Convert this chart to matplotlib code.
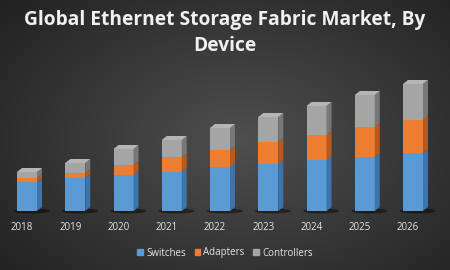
import matplotlib
matplotlib.use("Agg")
import matplotlib.pyplot as plt
import matplotlib.patches as mpatches
import numpy as np

years = ['2018', '2019', '2020', '2021', '2022', '2023', '2024', '2025', '2026']
switches = [29, 33, 36, 39, 44, 47, 51, 54, 58]
adapters = [4, 5, 10, 15, 17, 22, 25, 30, 33]
controllers = [6, 10, 16, 17, 22, 25, 29, 32, 36]

series = [('Switches', switches, '#5b9bd5', '#3d74ab', '#7fb2e3'),
          ('Adapters', adapters, '#ed7d31', '#b85a1c', '#f59a5c'),
          ('Controllers', controllers, '#a5a5a5', '#787878', '#bdbdbd')]

fig = plt.figure(figsize=(4.5, 2.7), dpi=100)

# radial dark background
bg = fig.add_axes([0, 0, 1, 1])
yy, xx = np.mgrid[0:270, 0:450]
r = np.sqrt(((xx - 240) / 300.0) ** 2 + ((yy - 140) / 200.0) ** 2)
shade = np.clip(0.31 - 0.17 * r, 0.1, 0.31)
bg.imshow(np.dstack([shade] * 3), aspect='auto', extent=(0, 450, 270, 0))
bg.axis('off')

ax = fig.add_axes([0, 0, 1, 1])
ax.patch.set_alpha(0)
ax.set_xlim(-22 / 48.25, (450 - 22) / 48.25)
ax.set_ylim(-59, 211)
ax.axis('off')

x = np.arange(len(years))
w = 20 / 48.25
off = 5 / 48.25
dx = 5 / 48.25
dy = 4

# floor shadows
for xi in x:
    ax.add_patch(mpatches.Ellipse((xi + off + 0.1, 0), 0.75, 5, color='black',
                                  alpha=0.45, lw=0))

bottom = np.zeros(len(years))
for name, vals, front, side, top in series:
    vals = np.array(vals, dtype=float)
    ax.bar(x + off, vals, w, bottom=bottom, color=front, label=name, lw=0)
    for xi, b, v in zip(x, bottom, vals):
        xr = xi + off + w / 2
        ax.add_patch(mpatches.Polygon([(xr, b), (xr + dx, b + dy),
                                       (xr + dx, b + v + dy), (xr, b + v)],
                                      closed=True, color=side, lw=0))
    bottom = bottom + vals

for xi, t in zip(x, bottom):
    xl = xi + off - w / 2
    ax.add_patch(mpatches.Polygon([(xl, t), (xl + w, t), (xl + w + dx, t + dy),
                                   (xl + dx, t + dy)],
                                  closed=True, color='#b5b5b5', lw=0))

for xi, yr in zip(x, years):
    ax.text(xi, -17, yr, ha='center', va='center', color='#e6e6e6',
            fontsize=7, family='Open Sans')

fig.text(0.5, 1 - 20 / 270, 'Global Ethernet Storage Fabric Market, By',
         ha='center', va='center', color='#f0f0f0', fontsize=13.8,
         fontweight='bold', family='Open Sans')
fig.text(0.5, 1 - 46 / 270, 'Device', ha='center', va='center',
         color='#f0f0f0', fontsize=13.8, fontweight='bold', family='Open Sans')

handles = [mpatches.Patch(color=s[2], label=s[0]) for s in series]
leg = fig.legend(handles=handles, loc='center', bbox_to_anchor=(0.5, 17 / 270),
                 ncol=3, frameon=False, handlelength=0.6,
                 handleheight=0.6, handletextpad=0.3, columnspacing=0.9,
                 prop={'family': 'Open Sans', 'size': 7})
for t in leg.get_texts():
    t.set_color('#e6e6e6')

fig.savefig('out.png', dpi=100)
